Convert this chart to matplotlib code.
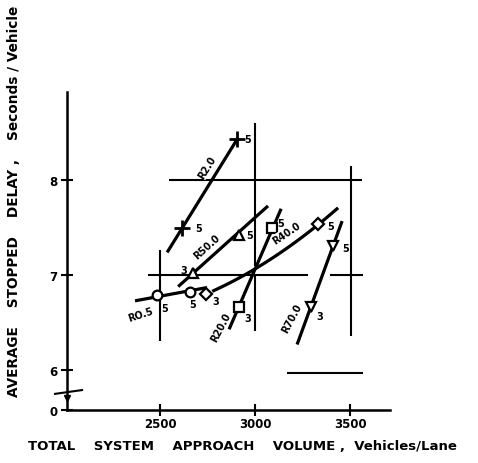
import matplotlib
matplotlib.use("Agg")
import matplotlib.pyplot as plt
import numpy as np

plt.rcParams['font.family'] = ['DejaVu Sans']

# ---- data -------------------------------------------------------------
# each series: fitted line (volume, delay), two observed points and their labels
r20_line_x = [2537, 2911]
r20_line_y = [7.24, 8.45]
r20_pts_x = [2616, 2905]
r20_pts_y = [7.50, 8.43]
r20_pts_lab = ["5", "5"]

r500_line_x = [2595, 3068]
r500_line_y = [6.88, 7.73]
r500_pts_x = [2674, 2916]
r500_pts_y = [7.02, 7.42]
r500_pts_lab = ["3", "5"]

r05_line_x = [2368, 2747]
r05_line_y = [6.73, 6.87]
r05_pts_x = [2484, 2658]
r05_pts_y = [6.79, 6.82]
r05_pts_lab = ["5", "5"]

r400_line_x = [2774, 3011, 3437]
r400_line_y = [6.83, 7.08, 7.71]
r400_pts_x = [2742, 3332]
r400_pts_y = [6.80, 7.54]
r400_pts_lab = ["3", "5"]

r200_line_x = [2863, 3137]
r200_line_y = [6.43, 7.70]
r200_pts_x = [2916, 3090]
r200_pts_y = [6.67, 7.50]
r200_pts_lab = ["3", "5"]

r700_line_x = [3221, 3458]
r700_line_y = [6.27, 7.57]
r700_pts_x = [3295, 3411]
r700_pts_y = [6.67, 7.31]
r700_pts_lab = ["3", "5"]

# reference bars: horizontal (y, x0, x1) and vertical (x, y0, y1)
ref_h_y = [8.0, 7.0, 7.0, 5.97]
ref_h_x0 = [2547, 2437, 3395, 3168]
ref_h_x1 = [3563, 3279, 3568, 3568]
ref_v_x = [3000, 3000, 2500, 3505]
ref_v_y0 = [8.60, 7.00, 7.27, 8.15]
ref_v_y1 = [7.10, 6.41, 6.31, 6.36]

x_ticks = [2500, 3000, 3500]
x_tick_labels = ["2500", "3000", "3500"]
y_ticks = [5.58, 6, 7, 8]
y_tick_labels = ["0", "6", "7", "8"]

# ---- figure -----------------------------------------------------------
W, H = 478, 464
fig = plt.figure(figsize=(W / 100, H / 100), dpi=100)
ax = fig.add_axes([67 / W, 1 - 411 / H, (390 - 67) / W, (411 - 93) / H])
ax.set_xlim(2010, 3710)
ax.set_ylim(5.58, 8.93)

for s in ("top", "right"):
    ax.spines[s].set_visible(False)
for s in ("left", "bottom"):
    ax.spines[s].set_linewidth(1.8)

ax.set_xticks(x_ticks)
ax.set_xticklabels(x_tick_labels, fontsize=8.5, fontweight="bold")
ax.set_yticks(y_ticks)
ax.set_yticklabels(y_tick_labels, fontsize=8.5, fontweight="bold")
ax.tick_params(direction="inout", length=8, width=1.5, pad=1)
ax.tick_params(axis="y", pad=3)

LW = 2.3
# reference bars
for y, x0, x1 in zip(ref_h_y, ref_h_x0, ref_h_x1):
    ax.plot([x0, x1], [y, y], color="black", lw=1.5, solid_capstyle="butt")
for x, y0, y1 in zip(ref_v_x, ref_v_y0, ref_v_y1):
    ax.plot([x, x], [y0, y1], color="black", lw=1.5, solid_capstyle="butt")

series = [
    (r20_line_x, r20_line_y, r20_pts_x, r20_pts_y, r20_pts_lab, "+",
     [(16, 0), (11, 0)]),
    (r500_line_x, r500_line_y, r500_pts_x, r500_pts_y, r500_pts_lab, "^",
     [(-9, 3), (10, 0)]),
    (r05_line_x, r05_line_y, r05_pts_x, r05_pts_y, r05_pts_lab, "o",
     [(8, -13), (3, -12)]),
    (r400_line_x, r400_line_y, r400_pts_x, r400_pts_y, r400_pts_lab, "D",
     [(10, -7), (12, -2)]),
    (r200_line_x, r200_line_y, r200_pts_x, r200_pts_y, r200_pts_lab, "s",
     [(9, -11), (8, 5)]),
    (r700_line_x, r700_line_y, r700_pts_x, r700_pts_y, r700_pts_lab, "v",
     [(9, -9), (12, -2)]),
]

for lx, ly, px, py, labs, mk, offs in series:
    if len(lx) > 2:
        coef = np.polyfit(lx, ly, 2)
        xs = np.linspace(lx[0], lx[-1], 40)
        ax.plot(xs, np.polyval(coef, xs), color="black", lw=LW,
                solid_capstyle="butt", zorder=3)
    else:
        ax.plot(lx, ly, color="black", lw=LW, solid_capstyle="butt", zorder=3)
    if mk == "+":
        ax.plot(px, py, ls="none", marker="+", ms=11, mew=2, color="black",
                zorder=4)
    else:
        ax.plot(px, py, ls="none", marker=mk, ms=7 if mk != "D" else 6,
                mfc="white", mec="black", mew=1.6, zorder=4)
    for x, y, lab, (dx, dy) in zip(px, py, labs, offs):
        ax.annotate(lab, (x, y), xytext=(dx, dy), textcoords="offset pixels",
                    ha="center", va="center", fontsize=7, fontweight="bold",
                    zorder=5)

# series names written along the lines
names = [
    ("R2.0", 2750, 8.14, 58),
    ("R50.0", 2745, 7.30, 42),
    ("R40.0", 3163, 7.45, 34),
    ("RO.5", 2395, 6.59, 18),
    ("R20.0", 2822, 6.46, 62),
    ("R70.0", 3192, 6.55, 62),
]
for txt, x, y, rot in names:
    ax.text(x, y, txt, rotation=rot, rotation_mode="anchor", ha="center",
            va="center", fontsize=7, fontweight="bold", zorder=5,
            bbox=dict(boxstyle="square,pad=0.0", fc="white", ec="none"))

# broken-axis mark between 0 and 6
ax.plot([1947, 2089], [5.75, 5.79], color="black", lw=1.5, clip_on=False)
ax.plot([2010], [5.71], marker="v", ms=5, color="black", clip_on=False)

fig.text(242 / W, 1 - 447 / H,
         "TOTAL    SYSTEM    APPROACH    VOLUME ,  Vehicles/Lane",
         ha="center", va="center", fontsize=9.5, fontweight="bold")
fig.text(14 / W, 1 - 201 / H,
         "AVERAGE    STOPPED    DELAY ,    Seconds / Vehicle",
         ha="center", va="center", rotation=90, fontsize=9.8,
         fontweight="bold")

fig.savefig("out.png", dpi=100)
